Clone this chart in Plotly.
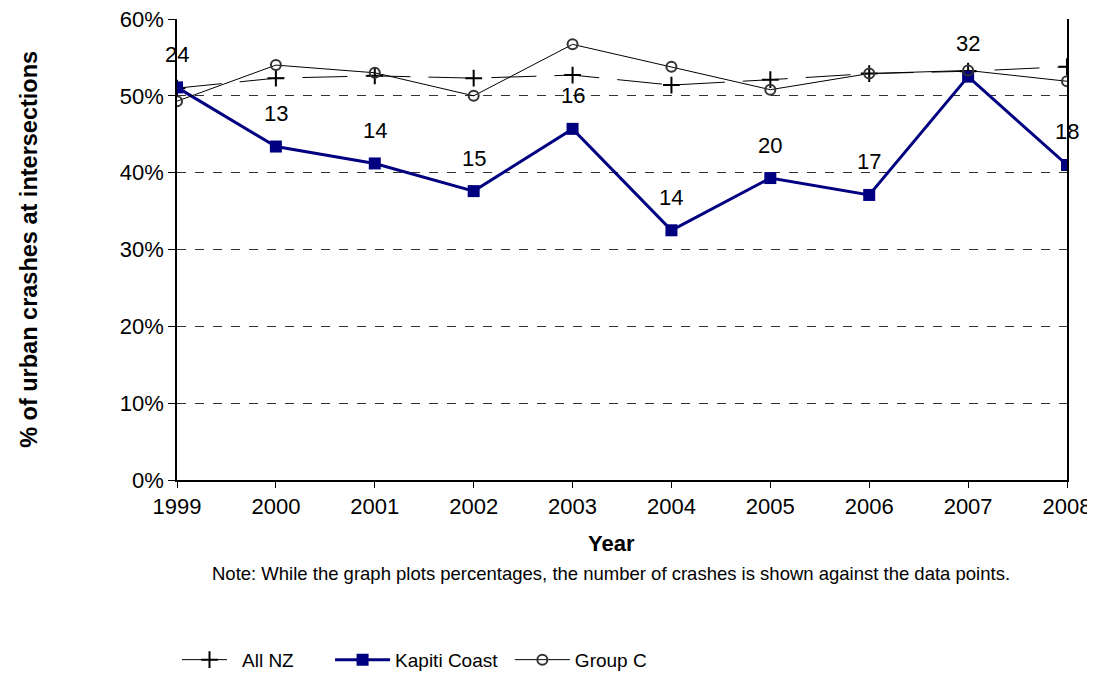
import plotly.graph_objects as go

years = [1999, 2000, 2001, 2002, 2003, 2004, 2005, 2006, 2007, 2008]
all_nz = [51.0, 52.3, 52.6, 52.3, 52.7, 51.4, 52.1, 52.9, 53.2, 53.8]
kapiti = [51.1, 43.4, 41.2, 37.6, 45.7, 32.5, 39.3, 37.1, 52.5, 41.0]
group_c = [49.3, 54.0, 53.0, 50.0, 56.7, 53.8, 50.8, 52.9, 53.3, 51.9]
crash_counts = [24, 13, 14, 15, 16, 14, 20, 17, 32, 18]

FONT = "Arial, Liberation Sans, sans-serif"

fig = go.Figure()
fig.add_trace(go.Scatter(
    x=years, y=all_nz, name="All NZ", mode="lines+markers", legend="legend",
    line=dict(color="black", width=1, dash="45px,18px"),
    marker=dict(symbol="cross-thin", size=12, line=dict(color="black", width=2)),
))
fig.add_trace(go.Scatter(
    x=years, y=kapiti, name="Kapiti Coast", mode="lines+markers", legend="legend2",
    line=dict(color="#000080", width=3),
    marker=dict(symbol="square", size=12, color="#000080"),
))
fig.add_trace(go.Scatter(
    x=years, y=group_c, name="Group C", mode="lines+markers", legend="legend3",
    line=dict(color="black", width=1),
    marker=dict(symbol="circle-open", size=10, color="#333333", line=dict(width=2)),
))

# crash counts above the Kapiti points
for yr, v, n in zip(years, kapiti, crash_counts):
    fig.add_annotation(x=yr, y=v, text=str(n), showarrow=False, yshift=33,
                       font=dict(size=22, color="black"))

fig.add_annotation(x=0.488, y=-0.169, xref="paper", yref="paper", text="<b>Year</b>",
                   xanchor="center", showarrow=False, font=dict(size=22, color="black"))
fig.add_annotation(x=0.488, y=-0.230, xref="paper", yref="paper",
                   text="Note: While the graph plots percentages, the number of crashes is shown against the data points.",
                   xanchor="center", showarrow=False, font=dict(size=18.5, color="black"))
fig.add_annotation(x=-0.167, y=0.5, xref="paper", yref="paper", textangle=-90,
                   text="<b>% of urban crashes at intersections</b>",
                   xanchor="center", yanchor="middle",
                   showarrow=False, font=dict(size=23.5, color="black"))

leg = dict(orientation="h", yanchor="middle", xanchor="left", y=-0.390,
           itemwidth=55, font=dict(size=19), bgcolor="rgba(0,0,0,0)")

fig.update_layout(
    width=1087, height=666,
    paper_bgcolor="white", plot_bgcolor="white",
    font=dict(family=FONT, color="black", size=22),
    margin=dict(l=169, r=28, t=11, b=194, autoexpand=False),
    xaxis=dict(range=[1999, 2008], tickvals=years, showgrid=False, zeroline=False,
               showline=True, linecolor="black", linewidth=1.5,
               ticks="outside", ticklen=6, tickcolor="black",
               ticklabeloverflow="allow", tickfont=dict(size=22)),
    yaxis=dict(range=[0, 60], dtick=10, ticksuffix="%", zeroline=False,
               showgrid=True, gridcolor="#333333", griddash="dash", gridwidth=1,
               showline=True, mirror=True, linecolor="black", linewidth=1.5,
               ticks="outside", ticklen=7, tickcolor="black",
               ticklabeloverflow="allow", tickfont=dict(size=22)),
    showlegend=True,
    legend=dict(leg, x=0.0),
    legend2=dict(leg, x=0.172),
    legend3=dict(leg, x=0.374),
)

fig.write_html("out.html")
